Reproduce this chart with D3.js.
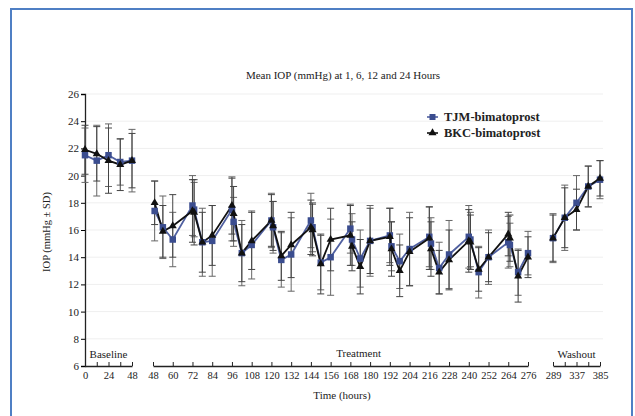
<!DOCTYPE html>
<html>
<head>
<meta charset="utf-8">
<script src="https://cdn.jsdelivr.net/npm/d3@7"></script>
<style>
  body { margin: 0; background: #fff; }
  text { font-family: "Liberation Serif", "DejaVu Serif", serif; fill: #222; }
</style>
</head>
<body>
<div id="chart"></div>
<script>
var width = 635, height = 416;

// time points (hours) for each phase
var baseHours = [0, 12, 24, 36, 48];
var treatHours = [49, 54, 60, 72, 73, 78, 84, 96, 97, 102, 108, 120, 121, 126, 132, 144, 145, 150, 156,
    168, 169, 174, 180, 192, 193, 198, 204, 216, 217, 222, 228, 240, 241, 246, 252, 264, 265, 270, 276];
var washHours = [289, 313, 337, 361, 385];

// mean IOP
var tjmBase = [21.5, 21.1, 21.5, 21.0, 21.1];
var bkcBase = [21.9, 21.6, 21.1, 20.8, 21.1];
var tjmTreat = [17.4, 16.2, 15.3, 17.8, 17.5, 15.1, 15.2, 17.5, 16.6, 14.3, 14.9, 16.7, 16.2, 13.8, 14.2,
    16.7, 16.2, 13.6, 14.0, 16.1, 15.3, 13.9, 15.2, 15.6, 14.8, 13.7, 14.6, 15.5, 15.0, 13.2, 14.2,
    15.5, 15.3, 12.9, 14.0, 15.1, 14.9, 12.9, 14.3];
var bkcTreat = [18.0, 15.9, 16.3, 17.4, 17.3, 15.1, 15.6, 17.8, 17.2, 14.3, 15.2, 16.7, 16.3, 14.1, 14.9,
    16.2, 16.0, 13.5, 15.3, 15.6, 14.8, 13.3, 15.2, 15.5, 14.6, 13.0, 14.4, 15.4, 14.6, 12.9, 13.8,
    15.2, 15.1, 13.1, 14.0, 15.7, 15.4, 12.6, 14.0];
var tjmWash = [15.4, 16.9, 18.0, 19.2, 19.7];
var bkcWash = [15.4, 16.9, 17.5, 19.2, 19.8];

// standard deviations
var tjmBaseSd = [2.0, 2.6, 2.3, 1.7, 2.3];
var bkcBaseSd = [1.8, 2.0, 2.4, 1.9, 2.0];
var tjmTreatSd = [2.2, 2.3, 2.0, 2.2, 2.0, 2.5, 2.6, 2.3, 1.8, 2.4, 2.5, 2.0, 1.9, 2.0, 2.7,
    2.0, 1.8, 2.0, 2.8, 1.8, 1.9, 2.1, 2.6, 2.0, 1.8, 2.0, 2.7, 2.2, 1.9, 1.9, 2.5,
    2.3, 2.0, 1.9, 2.0, 1.9, 1.6, 1.7, 1.6];
var bkcTreatSd = [1.6, 1.9, 2.3, 2.3, 2.4, 2.2, 2.2, 2.1, 2.0, 2.1, 2.1, 1.9, 1.8, 1.8, 2.4,
    2.0, 1.9, 2.2, 2.3, 2.2, 1.8, 2.0, 2.4, 2.1, 2.0, 1.9, 2.5, 2.3, 2.0, 1.6, 2.2,
    2.3, 2.0, 1.6, 1.8, 1.6, 1.7, 1.9, 1.5];
var tjmWashSd = [1.8, 2.4, 2.0, 1.5, 1.4];
var bkcWashSd = [1.7, 2.2, 1.5, 1.5, 1.3];

var yTicks = [6, 8, 10, 12, 14, 16, 18, 20, 22, 24, 26];
var baseTicks = [0, 12, 24, 36, 48];
var baseLabels = [0, 24, 48];
var treatTicks = d3.range(48, 277, 12);
var washTicks = [289, 313, 337, 361, 385];
var washLabels = [289, 337, 385];

var seriesNames = ['TJM-bimatoprost', 'BKC-bimatoprost'];
var colors = ['#3b4d8f', '#111111'];
var lineColors = ['#5060a0', '#111111'];

var svg = d3.select('#chart').append('svg')
    .attr('width', width)
    .attr('height', height);

// frame
svg.append('rect')
    .attr('x', 11).attr('y', 9)
    .attr('width', 621).attr('height', 430)
    .attr('fill', 'none')
    .attr('stroke', '#4f7fc4')
    .attr('stroke-width', 2);

var y = d3.scaleLinear().domain([6, 26]).range([366, 94]);
var xBase = d3.scaleLinear().domain([0, 48]).range([85, 132]);
var xTreat = d3.scaleLinear().domain([48, 276]).range([153, 528]);
var xWash = d3.scaleLinear().domain([289, 385]).range([553, 600]);

// faint grid
svg.append('g').selectAll('line')
    .data(yTicks.slice(1))
    .enter().append('line')
    .attr('x1', 85).attr('x2', 603)
    .attr('y1', d => y(d)).attr('y2', d => y(d))
    .attr('stroke', '#efefef')
    .attr('stroke-width', 1);

// title
svg.append('text')
    .attr('x', 343).attr('y', 79)
    .attr('text-anchor', 'middle')
    .style('font-size', '11px')
    .text('Mean IOP (mmHg) at 1, 6, 12 and 24 Hours');

// y axis
var yAxis = svg.append('g')
    .attr('transform', 'translate(85,0)')
    .call(d3.axisLeft(y).tickValues(yTicks).tickSize(4).tickPadding(2));
yAxis.select('.domain').attr('stroke', '#222').attr('stroke-width', 1.3);
yAxis.selectAll('text').style('font-size', '11px').attr('fill', '#333');

svg.append('text')
    .attr('transform', 'translate(50,232) rotate(-90)')
    .attr('text-anchor', 'middle')
    .style('font-size', '10.5px')
    .text('IOP (mmHg ± SD)');

// x axes for the three phases
function drawXAxis(scale, ticks, labels) {
    var ax = svg.append('g')
        .attr('transform', 'translate(0,366)')
        .call(d3.axisBottom(scale)
            .tickValues(ticks)
            .tickSizeInner(-4)
            .tickSizeOuter(0)
            .tickPadding(6)
            .tickFormat(d => labels.indexOf(d) >= 0 ? d : ''));
    ax.select('.domain').attr('stroke', '#222').attr('stroke-width', 1.3);
    ax.selectAll('.tick line').attr('stroke', '#222');
    ax.selectAll('text').style('font-size', '10.5px').attr('fill', '#333');
    return ax;
}
drawXAxis(xBase, baseTicks, baseLabels);
drawXAxis(xTreat, treatTicks, treatTicks);
drawXAxis(xWash, washTicks, washLabels);

// phase labels
var phases = [
    { name: 'Baseline', scale: xBase, mid: 24, dy: 358 },
    { name: 'Treatment', scale: xTreat, mid: 173, dy: 357 },
    { name: 'Washout', scale: xWash, mid: 337, dy: 358 }
];
svg.selectAll('.phase')
    .data(phases)
    .enter().append('text')
    .attr('class', 'phase')
    .attr('x', d => d.scale(d.mid))
    .attr('y', d => d.dy)
    .attr('text-anchor', 'middle')
    .style('font-size', '11px')
    .text(d => d.name);

svg.append('text')
    .attr('x', 342).attr('y', 399)
    .attr('text-anchor', 'middle')
    .style('font-size', '11px')
    .text('Time (hours)');

// build segments
var segments = [
    { scale: xBase, hours: baseHours, vals: [tjmBase, bkcBase], sds: [tjmBaseSd, bkcBaseSd] },
    { scale: xTreat, hours: treatHours, vals: [tjmTreat, bkcTreat], sds: [tjmTreatSd, bkcTreatSd] },
    { scale: xWash, hours: washHours, vals: [tjmWash, bkcWash], sds: [tjmWashSd, bkcWashSd] }
];

var errG = svg.append('g');
var lineG = svg.append('g');
var markG = svg.append('g');

segments.forEach(function(seg) {
    [0, 1].forEach(function(s) {
        var pts = seg.hours.map((h, i) => ({ x: seg.scale(h), m: seg.vals[s][i], sd: seg.sds[s][i] }));
        var eb = errG.selectAll(null).data(pts).enter().append('g')
            .attr('stroke', s === 0 ? '#666' : '#444')
            .attr('stroke-width', 1);
        eb.append('line')
            .attr('x1', d => d.x).attr('x2', d => d.x)
            .attr('y1', d => y(d.m + d.sd)).attr('y2', d => y(d.m - d.sd));
        eb.append('line')
            .attr('x1', d => d.x - 3.5).attr('x2', d => d.x + 3.5)
            .attr('y1', d => y(d.m + d.sd)).attr('y2', d => y(d.m + d.sd));
        eb.append('line')
            .attr('x1', d => d.x - 3.5).attr('x2', d => d.x + 3.5)
            .attr('y1', d => y(d.m - d.sd)).attr('y2', d => y(d.m - d.sd));

        lineG.append('path')
            .datum(pts)
            .attr('fill', 'none')
            .attr('stroke', lineColors[s])
            .attr('stroke-width', 1.8)
            .attr('d', d3.line().x(d => d.x).y(d => y(d.m)));

        var sym = d3.symbol().type(s === 0 ? d3.symbolSquare : d3.symbolTriangle).size(s === 0 ? 42 : 28);
        markG.selectAll(null).data(pts).enter().append('path')
            .attr('transform', d => `translate(${d.x},${y(d.m)})`)
            .attr('d', sym)
            .attr('fill', colors[s]);
    });
});

// legend
var legend = svg.append('g').attr('transform', 'translate(427,117)');
seriesNames.forEach(function(name, i) {
    var row = legend.append('g').attr('transform', `translate(0,${i * 16})`);
    row.append('line')
        .attr('x1', 0).attr('x2', 11)
        .attr('stroke', lineColors[i]).attr('stroke-width', 1.6);
    row.append('path')
        .attr('transform', 'translate(5.5,0)')
        .attr('d', d3.symbol().type(i === 0 ? d3.symbolSquare : d3.symbolTriangle).size(i === 0 ? 36 : 28))
        .attr('fill', colors[i]);
    row.append('text')
        .attr('x', 17).attr('y', 4)
        .style('font-size', '12.5px')
        .style('font-weight', 'bold')
        .text(name);
});
</script>
</body>
</html>
